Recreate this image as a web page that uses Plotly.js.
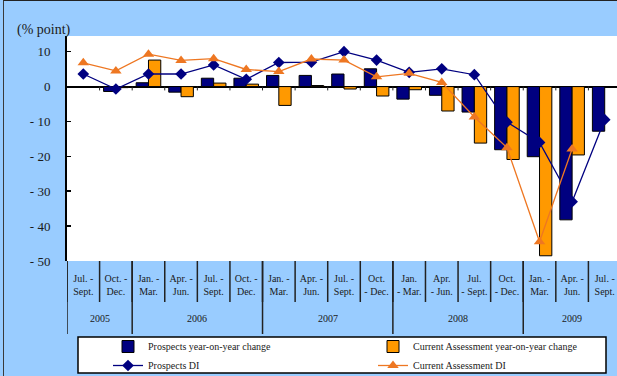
<!DOCTYPE html>
<html>
<head>
<meta charset="utf-8">
<script src="https://cdn.plot.ly/plotly-3.0.1.min.js"></script>
<style>
  html, body { margin: 0; padding: 0; overflow: hidden; background: #99CCFF; width: 617px; height: 376px; }
  #chart { position: absolute; left: 0; top: 0; width: 700px; height: 420px; }
  #frame { position: absolute; left: 3px; top: 0px; width: 700px; height: 500px;
           border-left: 1.5px solid #3a3a3a; border-top: 1.5px solid #222; pointer-events: none; }
</style>
</head>
<body>
<div id="chart"></div>
<div id="frame"></div>
<script>
// ---- data ----
const quarterIds = ['2005Q3','2005Q4','2006Q1','2006Q2','2006Q3','2006Q4','2007Q1','2007Q2','2007Q3','2007Q4',
                    '2008Q1','2008Q2','2008Q3','2008Q4','2009Q1','2009Q2','2009Q3'];
const quarterLabels = ['Jul. -<br>Sept.','Oct. -<br>Dec.',
                       'Jan. -<br>Mar.','Apr. -<br>Jun.','Jul. -<br>Sept.','Oct. -<br>Dec.',
                       'Jan. -<br>Mar.','Apr. -<br>Jun.','Jul. -<br>Sept.','Oct.<br>- Dec.',
                       'Jan.<br>- Mar.','Apr.<br>- Jun.','Jul.<br>- Sept.','Oct.<br>- Dec.',
                       'Jan. -<br>Mar.','Apr. -<br>Jun.','Jul. -<br>Sept.'];
const years = ['2005','2006','2007','2008','2009'];
const yearQuarterCounts = [2, 4, 4, 4, 3];

const prospectsYoY = [null, -1.4, 1.1, -1.6, 2.4, 2.4, 3.2, 3.2, 3.6, 5.1, -3.6, -2.5, -7.3, -18.1, -20.1, -38.2, -12.8];
const currentYoY   = [null, -0.3, 7.6, -2.9, 1.0, 0.7, -5.4, 0.3, -0.7, -2.7, -0.9, -7.0, -16.2, -20.9, -48.5, -19.6, null];
const prospectsDI  = [3.6, -0.7, 3.6, 3.6, 6.2, 2.1, 6.9, 7.0, 10.0, 7.6, 4.1, 5.1, 3.4, -10.2, -16.0, -33.0, -9.5];
const currentDI    = [6.8, 4.5, 9.3, 7.5, 8.0, 4.9, 4.3, 7.9, 7.6, 2.8, 3.8, 1.2, -8.7, -17.5, -44.5, -17.9, null];

const yTickVals = [-50, -40, -30, -20, -10, 0, 10];
const yTickText = ['- 50', '- 40', '- 30', '- 20', '- 10', '0', '10'];

const seriesNames = ['Prospects year-on-year change', 'Current Assessment year-on-year change',
                     'Prospects DI', 'Current Assessment DI'];

// ---- styles ----
const NAVY = '#000080', ORANGE = '#FF9900', ORANGE_LINE = '#EE7722';
const FONT = 'Liberation Serif, Times New Roman, serif';
const TXT = '#1a1a1a';

const traces = [
  { type: 'bar', name: seriesNames[0], x: quarterIds, y: prospectsYoY,
    marker: { color: NAVY, line: { color: '#000', width: 1 } } },
  { type: 'bar', name: seriesNames[1], x: quarterIds, y: currentYoY,
    marker: { color: ORANGE, line: { color: '#000', width: 1 } } },
  { type: 'scatter', mode: 'lines+markers', name: seriesNames[2], x: quarterIds, y: prospectsDI,
    line: { color: NAVY, width: 1.3 }, marker: { symbol: 'diamond', size: 9, color: NAVY } },
  { type: 'scatter', mode: 'lines+markers', name: seriesNames[3], x: quarterIds, y: currentDI,
    line: { color: ORANGE_LINE, width: 1.3 }, marker: { symbol: 'triangle-up', size: 10, color: ORANGE_LINE } }
];

// decorations: category dividers, year dividers, zero-line ticks, legend box
const plotL = 67, plotW = 554, plotB = 261, plotH = 225;
const shapes = [];
for (let i = 0; i <= quarterIds.length; i++) {
  shapes.push({ type: 'line', xref: 'x', yref: 'paper', x0: i - 0.5, x1: i - 0.5, y0: 0, y1: -41 / plotH,
                line: { color: '#222', width: 1.5 } });
  if (i > 0) {
    shapes.push({ type: 'line', xref: 'x', yref: 'y', x0: i - 0.5, x1: i - 0.5, y0: 0, y1: -1.1,
                  line: { color: '#222', width: 1 } });
  }
}
let cum = 0;
const annotations = [];
for (let k = 0; k < years.length; k++) {
  shapes.push({ type: 'line', xref: 'x', yref: 'paper', x0: cum - 0.5, x1: cum - 0.5, y0: 0, y1: -73 / plotH,
                line: { color: '#222', width: 1.5 } });
  annotations.push({ text: years[k], xref: 'x', yref: 'paper', x: cum + (yearQuarterCounts[k] - 1) / 2,
                     y: -57 / plotH, showarrow: false, xanchor: 'center', yanchor: 'middle',
                     font: { family: FONT, size: 10, color: TXT } });
  cum += yearQuarterCounts[k];
}
// legend frame
shapes.push({ type: 'rect', xref: 'paper', yref: 'paper', layer: 'above',
              x0: (78 - plotL) / plotW, x1: (606 - plotL) / plotW,
              y0: (plotB - 337) / plotH, y1: (plotB - 373) / plotH,
              fillcolor: '#ffffff', line: { color: '#000', width: 1.5 } });

annotations.push({ text: '(% point)', xref: 'paper', yref: 'paper', x: (15 - plotL) / plotW, y: (plotB - 30) / plotH,
                   xanchor: 'left', yanchor: 'middle', showarrow: false,
                   font: { family: FONT, size: 14, color: TXT } });

const layout = {
  width: 700, height: 420,
  margin: { l: 67, r: 79, t: 36, b: 159, pad: 0 },
  paper_bgcolor: '#99CCFF', plot_bgcolor: '#ffffff',
  font: { family: FONT, color: TXT },
  barmode: 'group', bargap: 0.245, bargroupgap: 0,
  showlegend: true,
  legend: { orientation: 'h', x: (108 - plotL) / plotW, xanchor: 'left', y: (plotB - 332) / plotH, yanchor: 'top',
            entrywidth: 220, entrywidthmode: 'pixels', bgcolor: 'rgba(0,0,0,0)', borderwidth: 0,
            font: { family: FONT, size: 10, color: TXT }, traceorder: 'normal' },
  xaxis: { type: 'category', tickmode: 'array', tickvals: quarterIds, ticktext: quarterLabels,
           ticks: '', showline: false, showgrid: false, zeroline: false, fixedrange: true,
           tickfont: { family: FONT, size: 10, color: TXT }, ticklabelstandoff: 10,
           range: [-0.5, quarterIds.length - 0.5] },
  yaxis: { range: [-50, 14.5], tickmode: 'array', tickvals: yTickVals, ticktext: yTickText,
           ticks: 'inside', ticklen: 4, tickwidth: 1.5, tickcolor: '#000',
           showline: true, linewidth: 2, linecolor: '#000', mirror: false,
           showgrid: false, zeroline: true, zerolinecolor: '#000', zerolinewidth: 2,
           tickfont: { family: FONT, size: 13, color: TXT }, ticklabelstandoff: 12, fixedrange: true },
  shapes: shapes,
  annotations: annotations
};

Plotly.newPlot('chart', traces, layout, { displayModeBar: false, staticPlot: true });
</script>
</body>
</html>
